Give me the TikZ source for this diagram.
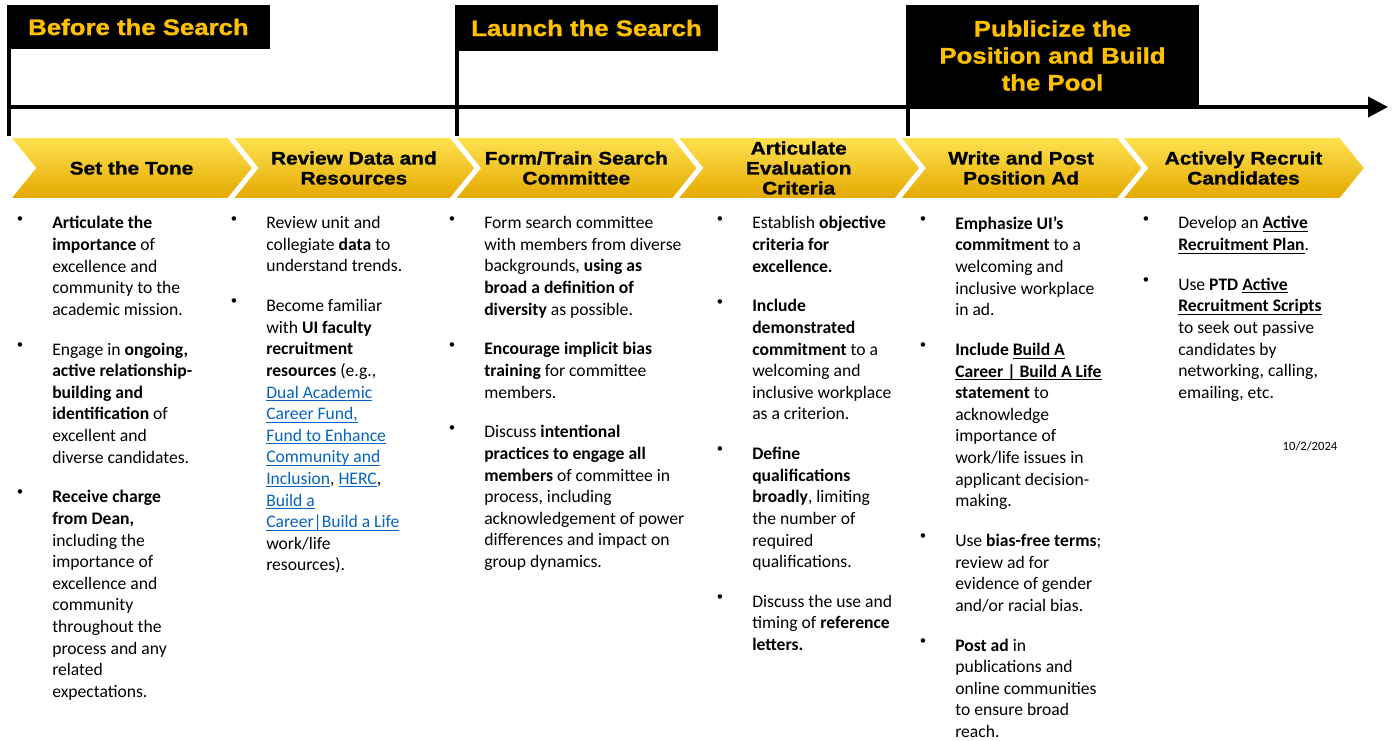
\documentclass[tikz,border=0pt]{standalone}
\usepackage{fontspec}
\setmainfont{Carlito}
\newfontfamily\headfont[FakeStretch=1.15, FakeBold=1.2]{Liberation Sans}
\usepackage{tikz}
\usepackage{xcolor}
\usetikzlibrary{positioning}
\usetikzlibrary{shapes.symbols}
\usetikzlibrary{arrows.meta}

\definecolor{gold}{RGB}{255,192,0}
\definecolor{chevtop}{RGB}{255,226,80}
\definecolor{chevmid}{RGB}{252,202,0}
\definecolor{chevbot}{RGB}{228,168,0}
\definecolor{linkblue}{RGB}{5,99,193}

\newcommand{\ulne}[1]{\setbox0=\hbox{#1}\rlap{\rule[-2.3pt]{\wd0}{0.75pt}}\box0}
\newcommand{\lnk}[1]{\textcolor{linkblue}{\ulne{#1}}}

\tikzset{
  phase/.style={fill=black, text=gold, inner sep=0pt, align=center,
    font=\headfont\bfseries\fontsize{16.8}{20.25}\selectfont},
  chev/.style={signal, signal to=east, signal from=west, signal pointer angle=102,
    minimum width=182.25pt, minimum height=46.5pt, inner sep=0pt,
    top color=chevtop, middle color=chevmid, bottom color=chevbot,
    draw=white, line width=1.2pt, align=center,
    font=\headfont\bfseries\fontsize{13.6}{15}\selectfont},
  tline/.style={line width=3pt, black},
  item/.style={anchor=north west, inner sep=0pt, align=left,
    font=\fontsize{13.2}{16.2}\selectfont,
    execute at begin node=\strut, execute at end node=\strut,
    label={[anchor=base, inner sep=0pt, xshift=-24pt, yshift=-4.3pt,
      font=\fontsize{9.5}{11}\selectfont]north west:\textbullet}}
}

\begin{document}
\begin{tikzpicture}[x=0.75pt,y=-0.75pt]
\useasboundingbox (0,0) rectangle (1394,740);

% phases
\node[phase, minimum width=197.25pt, minimum height=33pt] (ph1) at (138.5,27) {Before the Search};
\node[phase, minimum width=197.25pt, minimum height=34.5pt] (ph2) at (586.5,28) {Launch the Search};
\node[phase, minimum width=219.75pt, minimum height=75.75pt] (ph3) at (1052.5,55.5) {Publicize the\\Position and Build\\the Pool};

% steps
\foreach \i/\txt in {1/{Set the Tone}, 2/{Review Data and\\Resources}, 3/{Form/Train Search\\Committee},
  4/{Articulate\\Evaluation\\Criteria}, 5/{Write and Post\\Position Ad}, 6/{Actively Recruit\\Candidates}}
{
  \node[chev] (ch\i) at ({131.5+222.4*(\i-1)},168) {\txt};
}

% timeline
\coordinate (tl0) at (7,107);
\coordinate (tl1) at (1388,107);
\draw[tline,-{Triangle[length=15pt,width=15pt]}] (tl0) -- (tl1);
\draw[tline] ([xshift=1.5pt]ph1.south west) -- ([xshift=1.5pt]ph1.south west |- ch1.north);
\draw[tline] ([xshift=1.5pt]ph2.south west) -- ([xshift=1.5pt]ph2.south west |- ch3.north);
\draw[tline] ([xshift=1.5pt]ph3.south west) -- ([xshift=1.5pt]ph3.south west |- ch5.north);

% set the tone
\node[item] (c1a) at (52,216.3) {\textbf{Articulate the}\\\textbf{importance} of\\excellence and\\community to the\\academic mission.};
\node[item, below right=15.3pt and 0pt of c1a.south west] (c1b) {Engage in \textbf{ongoing,}\\\textbf{active relationship-}\\\textbf{building and}\\\textbf{identification} of\\excellent and\\diverse candidates.};
\node[item, below right=15.3pt and 0pt of c1b.south west] (c1c) {\textbf{Receive charge}\\\textbf{from Dean,}\\including the\\importance of\\excellence and\\community\\throughout the\\process and any\\related\\expectations.};

% review data
\node[item] (c2a) at (266,216.3) {Review unit and\\collegiate \textbf{data} to\\understand trends.};
\node[item, below right=15.3pt and 0pt of c2a.south west] (c2b) {Become familiar\\with \textbf{UI faculty}\\\textbf{recruitment}\\\textbf{resources} (e.g.,\\\lnk{Dual Academic}\\\lnk{Career Fund,}\\\lnk{Fund to Enhance}\\\lnk{Community and}\\\lnk{Inclusion}, \lnk{HERC},\\\lnk{Build a}\\\lnk{Career|Build a Life}\\work/life\\resources).};

% committee
\node[item] (c3a) at (484,216.3) {Form search committee\\with members from diverse\\backgrounds, \textbf{using as}\\\textbf{broad a definition of}\\\textbf{diversity} as possible.};
\node[item, below right=15.3pt and 0pt of c3a.south west] (c3b) {\textbf{Encourage implicit bias}\\\textbf{training} for committee\\members.};
\node[item, below right=15.3pt and 0pt of c3b.south west] (c3c) {Discuss \textbf{intentional}\\\textbf{practices to engage all}\\\textbf{members} of committee in\\process, including\\acknowledgement of power\\differences and impact on\\group dynamics.};

% criteria
\node[item] (c4a) at (752,216.3) {Establish \textbf{objective}\\\textbf{criteria for}\\\textbf{excellence.}};
\node[item, below right=15.3pt and 0pt of c4a.south west] (c4b) {\textbf{Include}\\\textbf{demonstrated}\\\textbf{commitment} to a\\welcoming and\\inclusive workplace\\as a criterion.};
\node[item, below right=15.3pt and 0pt of c4b.south west] (c4c) {\textbf{Define}\\\textbf{qualifications}\\\textbf{broadly}, limiting\\the number of\\required\\qualifications.};
\node[item, below right=15.3pt and 0pt of c4c.south west] (c4d) {Discuss the use and\\timing of \textbf{reference}\\\textbf{letters.}};

% position ad
\node[item] (c5a) at (955,216.3) {\textbf{Emphasize UI’s}\\\textbf{commitment} to a\\welcoming and\\inclusive workplace\\in ad.};
\node[item, below right=15.3pt and 0pt of c5a.south west] (c5b) {\textbf{Include \ulne{Build A}}\\\textbf{\ulne{Career | Build A Life}}\\\textbf{statement} to\\acknowledge\\importance of\\work/life issues in\\applicant decision-\\making.};
\node[item, below right=15.3pt and 0pt of c5b.south west] (c5c) {Use \textbf{bias-free terms};\\review ad for\\evidence of gender\\and/or racial bias.};
\node[item, below right=15.3pt and 0pt of c5c.south west, execute at end node={}] (c5d) {\textbf{Post ad} in\\publications and\\online communities\\to ensure broad\\reach.};

% recruit
\node[item] (c6a) at (1178,216.3) {Develop an \textbf{\ulne{Active}}\\\textbf{\ulne{Recruitment Plan}}.};
\node[item, below right=15.3pt and 0pt of c6a.south west] (c6b) {Use \textbf{PTD \ulne{Active}}\\\textbf{\ulne{Recruitment Scripts}}\\to seek out passive\\candidates by\\networking, calling,\\emailing, etc.};

\node[font=\fontsize{9.5}{11}\selectfont] (date) at (1310,446) {10/2/2024};
\end{tikzpicture}
\end{document}
